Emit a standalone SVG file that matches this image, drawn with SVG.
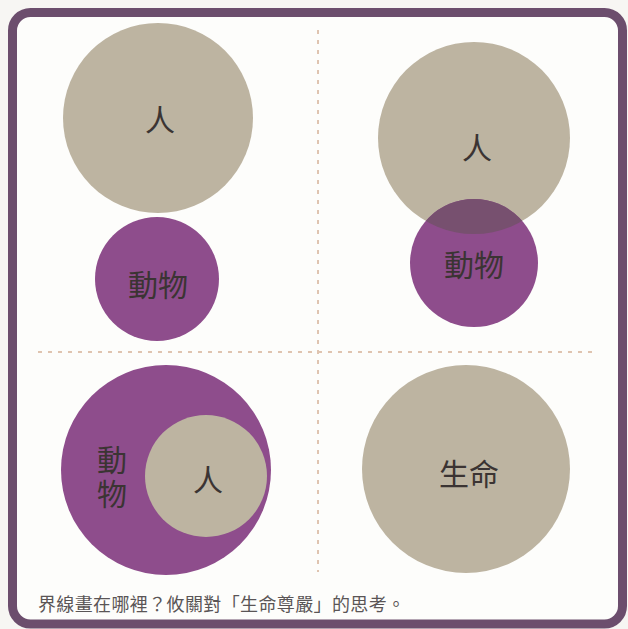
<svg xmlns="http://www.w3.org/2000/svg" width="628" height="629" viewBox="0 0 628 629">
<defs>
<style>
.tan{fill:#bdb4a1}
.pur{fill:#8e4d8c}
.lbl{font-family:"Noto Sans CJK TC","Noto Sans CJK SC",sans-serif;font-size:30px;fill:#3b3433;text-anchor:middle;dominant-baseline:central}
.vert{writing-mode:vertical-rl;letter-spacing:4px;dominant-baseline:auto}
.dash{stroke:#dfc4b0;stroke-width:2;stroke-dasharray:4 6;fill:none}
.cap{font-family:"Noto Sans CJK TC","Noto Sans CJK SC",sans-serif;font-size:18px;fill:#5a5556}
</style>
<clipPath id="clipTR"><circle cx="474" cy="138" r="96"/></clipPath>
</defs>
<rect x="0" y="0" width="628" height="629" fill="#f7f6f3"/>
<rect x="12.5" y="12.5" width="610" height="611.5" rx="18" fill="#fdfdfb" stroke="#6c4e6d" stroke-width="9"/>
<g id="connectors">
<line class="dash" x1="318" y1="30" x2="318" y2="572"/>
<line class="dash" x1="38" y1="352" x2="592" y2="352"/>
</g>
<g id="tl-human">
<circle class="tan" cx="158" cy="118" r="95"/>
<text class="lbl" x="160" y="118">人</text>
</g>
<g id="tl-animal">
<circle class="pur" cx="157" cy="279" r="62"/>
<text class="lbl" x="158" y="283">動物</text>
</g>
<g id="tr-human">
<circle class="tan" cx="474" cy="138" r="96"/>
<text class="lbl" x="477" y="146">人</text>
</g>
<g id="tr-animal">
<circle class="pur" cx="474" cy="263" r="64"/>
<circle cx="474" cy="263" r="64" fill="#77506f" clip-path="url(#clipTR)"/>
<text class="lbl" x="474" y="263">動物</text>
</g>
<g id="bl-animal">
<circle class="pur" cx="166" cy="470" r="105"/>
<text class="lbl vert" x="112" y="479">動物</text>
</g>
<g id="bl-human">
<circle class="tan" cx="206" cy="476" r="61"/>
<text class="lbl" x="208" y="478">人</text>
</g>
<g id="br-life">
<circle class="tan" cx="466" cy="469" r="104"/>
<text class="lbl" x="469" y="472">生命</text>
</g>
<text class="cap" x="38" y="611" textLength="367" lengthAdjust="spacing">界線畫在哪裡？攸關對「生命尊嚴」的思考。</text>
</svg>
